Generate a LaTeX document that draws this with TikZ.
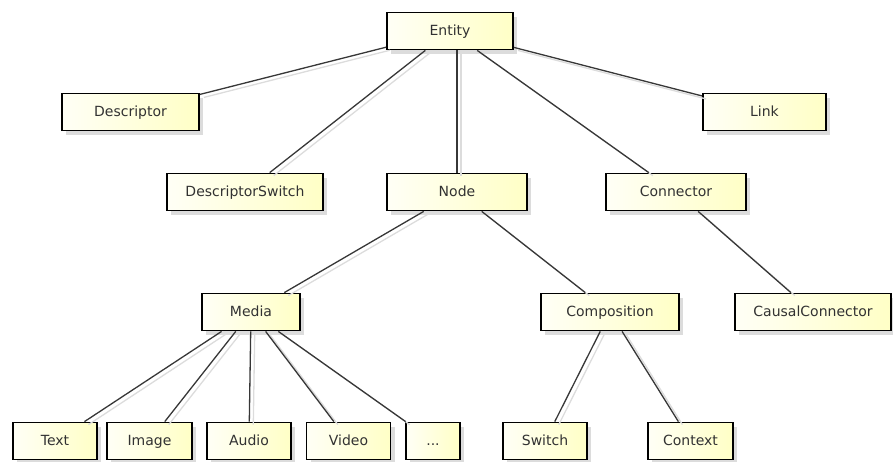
\documentclass[tikz,border=0pt]{standalone}
\usepackage{fontspec}
\setmainfont{DejaVu Sans}
\usepackage{tikz}
\usetikzlibrary{shadows}
\definecolor{boxleft}{RGB}{255,255,246}
\definecolor{boxright}{RGB}{255,255,198}
\definecolor{edgegray}{RGB}{55,55,55}
\definecolor{shadowgray}{RGB}{220,220,220}
\definecolor{labelgray}{RGB}{50,50,50}
\tikzset{
  cls/.style={draw=black, line width=1.8pt, left color=boxleft, right color=boxright,
    minimum height=37pt, inner sep=0pt, text height=10.5pt, text depth=2.5pt,
    font=\fontsize{14}{16}\selectfont, text=labelgray,
    drop shadow={shadow xshift=4pt, shadow yshift=-4pt, fill=shadowgray, opacity=1}},
  edge/.style={draw=edgegray, line width=1.3pt},
  edgeshadow/.style={draw=shadowgray, line width=1.3pt, transform canvas={xshift=4pt,yshift=-3pt}}
}

\begin{document}
\begin{tikzpicture}[x=1pt,y=-1pt]
\useasboundingbox (0,0) rectangle (893,461);
%classes
\node[cls, minimum width=126pt] (entity) at (450,31) {Entity};
\node[cls, minimum width=137pt] (descriptor) at (130.5,112) {Descriptor};
\node[cls, minimum width=123pt] (link) at (764.5,112) {Link};
\node[cls, minimum width=156pt] (descswitch) at (245,192) {DescriptorSwitch};
\node[cls, minimum width=140pt] (node) at (457,192) {Node};
\node[cls, minimum width=140pt] (connector) at (676,192) {Connector};
\node[cls, minimum width=98pt] (media) at (251,312) {Media};
\node[cls, minimum width=138pt] (composition) at (610,312) {Composition};
\node[cls, minimum width=156pt] (causal) at (813,312) {CausalConnector};
\node[cls, minimum width=84pt] (text) at (55,441) {Text};
\node[cls, minimum width=85pt] (image) at (149.5,441) {Image};
\node[cls, minimum width=84pt] (audio) at (249,441) {Audio};
\node[cls, minimum width=84pt] (video) at (348.5,441) {Video};
\node[cls, minimum width=54pt] (etc) at (433,441) {...};
\node[cls, minimum width=84pt] (switch) at (545,441) {Switch};
\node[cls, minimum width=85pt] (context) at (690.5,441) {Context};
%edges
\draw[edgeshadow] (node.north) -- (node.north |- entity.south);
\draw[edge] (node.north) -- (node.north |- entity.south);
\foreach \a/\b in {entity/descriptor, entity/link, entity/descswitch,
  entity/connector, node/media, node/composition, connector/causal,
  media/text, media/image, media/audio, media/video, media/etc,
  composition/switch, composition/context}
{
  \draw[edgeshadow] (\a) -- (\b);
  \draw[edge] (\a) -- (\b);
}
\end{tikzpicture}
\end{document}
